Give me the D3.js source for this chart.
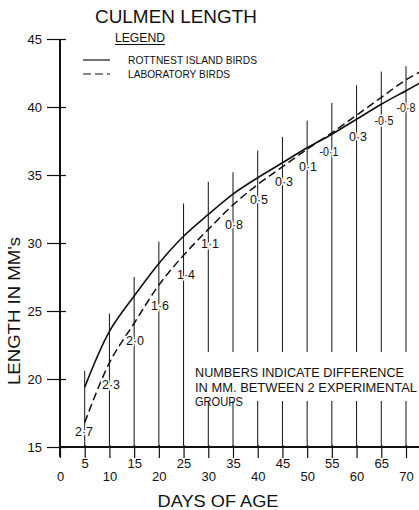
<!DOCTYPE html>
<html>
<head>
<meta charset="utf-8">
<script src="https://cdn.jsdelivr.net/npm/d3@7"></script>
<style>
  body { margin: 0; background: #fff; }
  svg { display: block; font-family: "Liberation Sans", "DejaVu Sans", sans-serif; }
</style>
</head>
<body>
<div id="chart"></div>
<script>
// days of age where the two groups were measured
const days = [5, 10, 15, 20, 25, 30, 35, 40, 45, 50, 55, 60, 65, 70, 75];
// culmen length (mm), Rottnest Island birds (solid)
const rottnest = [19.4, 23.5, 26.1, 28.5, 30.5, 32.1, 33.6, 34.8, 35.9, 37.0, 38.0, 39.1, 40.2, 41.2, 42.2];
// laboratory birds (dashed)
const laboratory = [16.8, 21.2, 24.1, 26.9, 29.1, 31.0, 32.8, 34.3, 35.6, 36.9, 38.1, 39.4, 40.7, 42.0, 43.0];
// top of the vertical range line at each day
const rangeTop = [20.6, 24.8, 27.5, 30.1, 32.9, 34.5, 35.2, 36.8, 37.8, 39.0, 40.3, 41.6, 42.6, 43.0];
// difference labels
const diffLabels = ["2·7", "2·3", "2·0", "1·6", "1·4", "1·1", "0·8", "0·5", "0·3", "0·1", "-0·1", "0·3", "-0·5", "-0·8"];
const labelPos = [[84, 436], [111, 389], [135, 345], [160, 310], [186, 279], [210, 248], [234, 229],
                  [259, 204], [284, 186], [308, 171], [329, 156], [358, 141], [384, 125], [406, 112]];
const xTicks = d3.range(0, 75, 5);
const yTicks = [15, 20, 25, 30, 35, 40, 45];
const noteLines = ["NUMBERS INDICATE DIFFERENCE", "IN MM. BETWEEN 2 EXPERIMENTAL", "GROUPS"];
const noteWidths = [209, 222, 48];

const W = 419, H = 510;
const svg = d3.select("#chart").append("svg").attr("width", W).attr("height", H);

const x = d3.scaleLinear().domain([0, 70]).range([60, 406]);
const y = d3.scaleLinear().domain([15, 45]).range([447, 39]);

// vertical range lines down to the axis
svg.append("g").selectAll("line")
  .data(rangeTop)
  .enter().append("line")
  .attr("x1", (d, i) => x(days[i])).attr("x2", (d, i) => x(days[i]))
  .attr("y1", d => y(d)).attr("y2", y(15))
  .attr("stroke", "#111").attr("stroke-width", 1);

// white box behind the note text
svg.append("rect").attr("x", 192).attr("y", 352).attr("width", 227).attr("height", 49).attr("fill", "#fff");

const line = d3.line().curve(d3.curveCatmullRom.alpha(0.5)).x(d => x(d[0])).y(d => y(d[1]));

svg.append("path")
  .attr("d", line(days.map((d, i) => [d, laboratory[i]])))
  .attr("fill", "none").attr("stroke", "#111").attr("stroke-width", 1.5)
  .attr("stroke-dasharray", "8,4");

svg.append("path")
  .attr("d", line(days.map((d, i) => [d, rottnest[i]])))
  .attr("fill", "none").attr("stroke", "#111").attr("stroke-width", 1.6);

// difference labels with a white halo so lines break around them
svg.append("g").selectAll("text")
  .data(diffLabels)
  .enter().append("text")
  .attr("x", (d, i) => labelPos[i][0]).attr("y", (d, i) => labelPos[i][1])
  .attr("text-anchor", "middle")
  .attr("font-size", 12.5)
  .attr("fill", "#111")
  .attr("stroke", "#fff").attr("stroke-width", 3).attr("paint-order", "stroke")
  .attr("textLength", d => (d.length > 3 ? 19 : null))
  .attr("lengthAdjust", "spacingAndGlyphs")
  .text(d => d);

// note
svg.append("g").selectAll("text")
  .data(noteLines)
  .enter().append("text")
  .attr("x", 195).attr("y", (d, i) => 377 + i * 14.5)
  .attr("font-size", 12).attr("fill", "#111")
  .attr("textLength", (d, i) => noteWidths[i]).attr("lengthAdjust", "spacingAndGlyphs")
  .text(d => d);

// y axis
const yAxis = svg.append("g").attr("transform", "translate(60,0)")
  .call(d3.axisLeft(y).tickValues(yTicks).tickSize(13).tickPadding(5));
yAxis.select(".domain").remove();
yAxis.selectAll("text").attr("font-size", 13).attr("fill", "#111").attr("font-family", "Liberation Sans, sans-serif");
yAxis.selectAll("line").attr("stroke", "#111").attr("stroke-width", 1.2);
svg.append("g").attr("transform", "translate(60,0)")
  .call(d3.axisRight(y).tickValues(yTicks).tickSize(6).tickFormat(""))
  .call(g => g.select(".domain").remove())
  .selectAll("line").attr("stroke", "#111").attr("stroke-width", 1.2);
svg.append("line").attr("x1", 60).attr("x2", 60).attr("y1", y(45)).attr("y2", 457)
  .attr("stroke", "#111").attr("stroke-width", 2);

// x axis
const xAxis = svg.append("g").attr("transform", `translate(0,${y(15)})`)
  .call(d3.axisBottom(x).tickValues(xTicks).tickSize(11).tickPadding(4));
xAxis.select(".domain").remove();
xAxis.selectAll("line").attr("stroke", "#111").attr("stroke-width", 1.2).attr("y1", -2);
xAxis.selectAll("text")
  .attr("font-size", 13).attr("fill", "#111").attr("font-family", "Liberation Sans, sans-serif")
  .attr("y", d => (d % 10 === 5 ? 12 : 25));
svg.append("line").attr("x1", 60).attr("x2", W).attr("y1", y(15)).attr("y2", y(15))
  .attr("stroke", "#111").attr("stroke-width", 2);

// titles
svg.append("text").attr("x", 176).attr("y", 23).attr("text-anchor", "middle")
  .attr("font-size", 19).attr("fill", "#111").attr("textLength", 162).attr("lengthAdjust", "spacingAndGlyphs")
  .text("CULMEN LENGTH");
svg.append("text").attr("x", 218).attr("y", 507).attr("text-anchor", "middle")
  .attr("font-size", 17).attr("fill", "#111").attr("textLength", 121).attr("lengthAdjust", "spacingAndGlyphs")
  .text("DAYS OF AGE");
svg.append("text").attr("transform", "translate(20,311) rotate(-90)").attr("text-anchor", "middle")
  .attr("font-size", 17).attr("fill", "#111").attr("textLength", 148).attr("lengthAdjust", "spacingAndGlyphs")
  .text("LENGTH IN MM's");

// legend
svg.append("text").attr("x", 115).attr("y", 42).attr("font-size", 12.5).attr("fill", "#111")
  .attr("textLength", 50).attr("lengthAdjust", "spacingAndGlyphs").text("LEGEND");
svg.append("line").attr("x1", 115).attr("x2", 165).attr("y1", 44.5).attr("y2", 44.5)
  .attr("stroke", "#111").attr("stroke-width", 1);
const legendItems = ["ROTTNEST ISLAND BIRDS", "LABORATORY BIRDS"];
const legendWidths = [129, 102];
const lg = svg.append("g").selectAll("g").data(legendItems).enter().append("g")
  .attr("transform", (d, i) => `translate(0,${60 + i * 14})`);
lg.append("line").attr("x1", 83).attr("x2", 110)
  .attr("stroke", "#111").attr("stroke-width", 1.2)
  .attr("stroke-dasharray", (d, i) => (i ? "8,4" : null));
lg.append("text").attr("x", 128).attr("y", 4).attr("font-size", 11).attr("fill", "#111")
  .attr("textLength", (d, i) => legendWidths[i]).attr("lengthAdjust", "spacingAndGlyphs")
  .text(d => d);
</script>
</body>
</html>
